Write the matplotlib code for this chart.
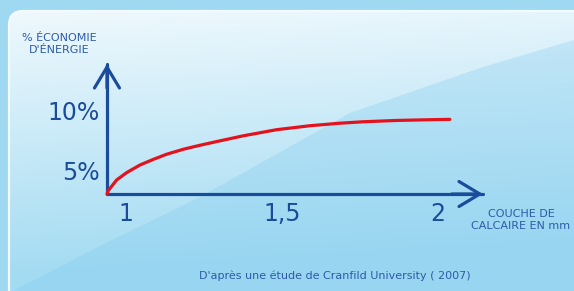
import numpy as np
import matplotlib.pyplot as plt
from matplotlib.patches import FancyBboxPatch, Polygon

# Données (épaisseur de calcaire en mm, % d'économie d'énergie)
epaisseur = [0.939, 0.943, 0.970, 1.002, 1.045, 1.088, 1.130, 1.184, 1.237,
             1.296, 1.376, 1.483, 1.590, 1.686, 1.761, 1.868, 1.974, 2.038]
economie = [3.0, 3.28, 4.17, 4.78, 5.42, 5.89, 6.31, 6.73, 7.06,
            7.40, 7.85, 8.36, 8.69, 8.90, 9.02, 9.13, 9.19, 9.22]

x_ticks = [1, 1.5, 2]
x_labels = ['1', '1,5', '2']
y_ticks = [5, 10]
y_labels = ['5%', '10%']

bleu = '#1b4c9c'
texte = '#2d5ba8'
rouge = '#e3121c'

W, H = 574, 291
fig = plt.figure(figsize=(W / 100, H / 100), dpi=100)
fig.patch.set_facecolor('#9ed8f1')

# ---- fond (panneau arrondi avec dégradé) ----
bg = fig.add_axes([0, 0, 1, 1])
bg.set_xlim(0, W)
bg.set_ylim(H, 0)
bg.axis('off')
panel = FancyBboxPatch((9, 11), 640, 320, boxstyle='round,pad=0,rounding_size=14',
                       facecolor='none', edgecolor='#f4fbfe', lw=1.6, zorder=3)
bg.add_patch(panel)
yy = np.linspace(0, 1, 200)[:, None]
xx = np.linspace(0, 1, 300)[None, :]
c_top = np.array([0.95, 0.98, 0.995])
c_bot = np.array([0.64, 0.86, 0.95])
t = np.clip(yy * 1.05 + xx * 0.12, 0, 1)[..., None]
grad = c_top * (1 - t) + c_bot * t
im = bg.imshow(grad, extent=[0, W, H, 0], aspect='auto', zorder=1)
im.set_clip_path(panel)
bande = Polygon([(13, 291), (100, 246), (200, 197), (350, 113), (483, 67), (574, 40),
                 (574, 291)], closed=True, facecolor='#7fcaee', alpha=0.3,
                edgecolor='none', zorder=2)
bg.add_patch(bande)
bande.set_clip_path(panel)

# ---- graphique ----
ax = fig.add_axes([0, 0, 1, 1])
ax.patch.set_alpha(0)
ax.set_xlim(1 - 126 / 312, 1 + 448 / 312)
ax.set_ylim((230 - 291) / 12, 230 / 12)

x0, y0 = epaisseur[0], economie[0]
x_tip, y_tip = 2.144, 13.83

for s in ['top', 'right']:
    ax.spines[s].set_visible(False)
ax.spines['bottom'].set_position(('data', y0))
ax.spines['left'].set_position(('data', x0))
ax.spines['bottom'].set_bounds(x0, x_tip)
ax.spines['left'].set_bounds(y0, y_tip)
for s in ['bottom', 'left']:
    ax.spines[s].set_color(bleu)
    ax.spines[s].set_linewidth(2.3)
    ax.spines[s].set_capstyle('round')

ax.set_xticks(x_ticks)
ax.set_xticklabels(x_labels)
ax.set_yticks(y_ticks)
ax.set_yticklabels(y_labels)
ax.tick_params(axis='both', length=0, labelsize=17, labelcolor=bleu)
ax.tick_params(axis='x', pad=6)
ax.tick_params(axis='y', pad=5)

# pointes de flèche ouvertes
arrow = dict(arrowstyle='->,head_length=1.5,head_width=0.9', lw=2.3, color=bleu,
             shrinkA=0, shrinkB=0)
ax.annotate('', xy=(x_tip, y0), xytext=(x_tip - 0.1, y0), arrowprops=arrow)
ax.annotate('', xy=(x0, y_tip), xytext=(x0, y_tip - 2), arrowprops=arrow)

ax.plot(epaisseur, economie, color=rouge, lw=2.3, solid_capstyle='round',
        solid_joinstyle='round', zorder=5)

fig.text(59 / W, 1 - 44 / H, "% ÉCONOMIE\nD'ÉNERGIE", ha='center', va='center',
         fontsize=8, color=texte, linespacing=1.35)
fig.text(521 / W, 1 - 220 / H, 'COUCHE DE\nCALCAIRE EN mm', ha='center', va='center',
         fontsize=8, color=texte, linespacing=1.35)
fig.text(335 / W, 1 - 276 / H, "D'après une étude de Cranfild University ( 2007)",
         ha='center', va='center', fontsize=8, color=texte)

fig.savefig('out.png', dpi=100)
